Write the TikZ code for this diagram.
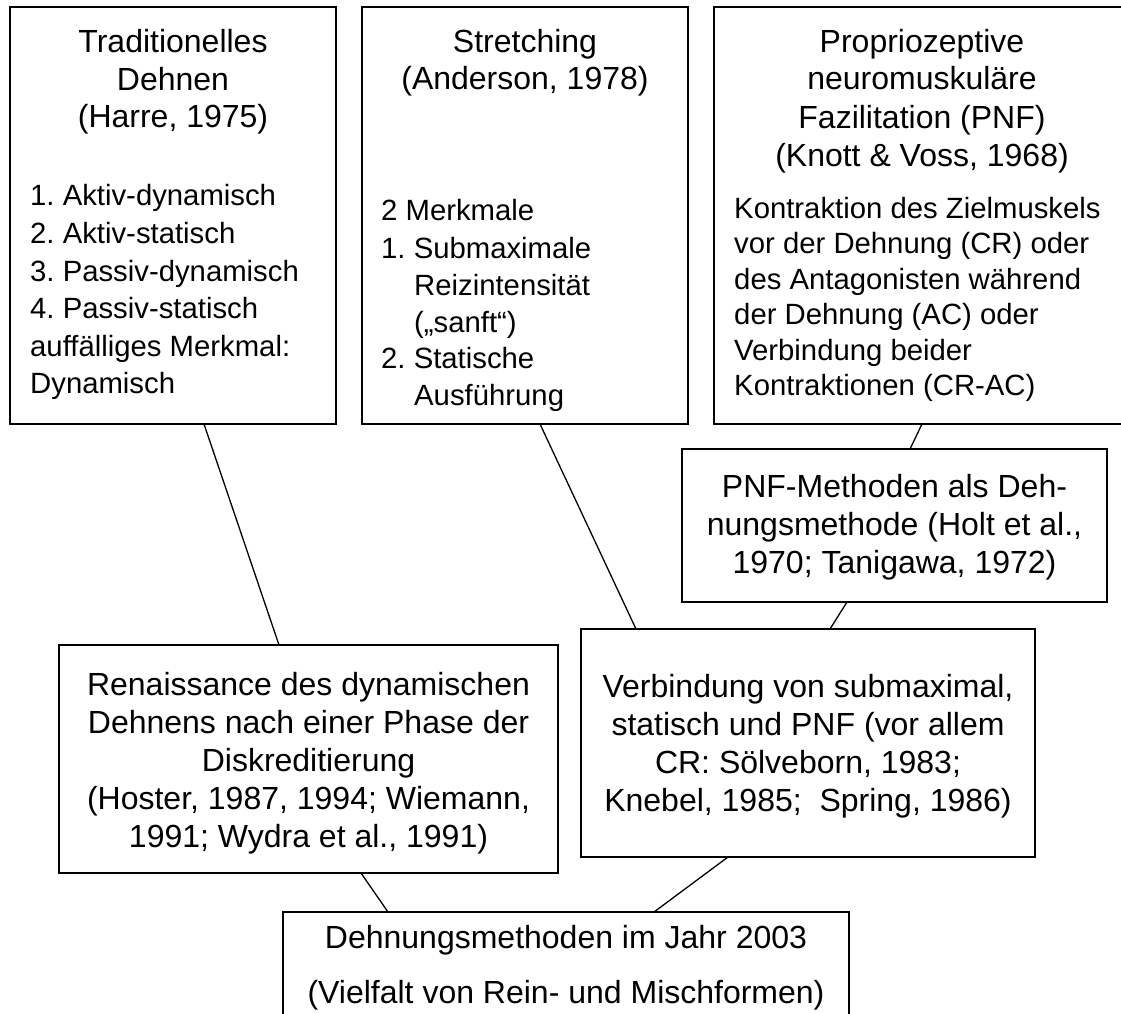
\documentclass[tikz,border=0pt]{standalone}
\usepackage{fontspec}
\setmainfont{Liberation Sans}
\frenchspacing
\begin{document}
\begin{tikzpicture}[x=1pt,y=-1pt,
  box/.style={draw=black, line width=2.2pt, rectangle, outer sep=0pt, inner sep=0pt},
  link/.style={draw=black, line width=1.3pt},
  hd/.style={font=\fontsize{32}{38}\selectfont, anchor=base, inner sep=0pt},
  li/.style={font=\fontsize{29.3}{36}\selectfont, anchor=base west, inner sep=0pt}]
\useasboundingbox[fill=white] (0,0) rectangle (1121,1013);

% boxes
\node[box, minimum width=326pt, minimum height=417pt] (trad) at (173,215.5) {};
\node[box, minimum width=326pt, minimum height=417pt] (stretch) at (525,215.5) {};
\node[box, minimum width=416pt, minimum height=417pt] (pnf) at (922,215.5) {};
\node[box, minimum width=425pt, minimum height=153pt] (pnfm) at (894.5,525.5) {};
\node[box, minimum width=499pt, minimum height=228pt] (ren) at (308.5,759) {};
\node[box, minimum width=454pt, minimum height=228pt] (verb) at (808,743) {};
\node[box, minimum width=566pt, minimum height=128pt] (dehn) at (566,976) {};

% connectors
\draw[link] ([xshift=31pt]trad.south) -- ([xshift=-29.5pt]ren.north);
\draw[link] ([xshift=15pt]stretch.south) -- ([xshift=-172pt]verb.north);
\draw[link] (pnf.south) -- ([xshift=15.5pt]pnfm.north);
\draw[link] ([xshift=-47.5pt]pnfm.south) -- ([xshift=22pt]verb.north);
\draw[link] ([xshift=52.5pt]ren.south) -- ([xshift=-178pt]dehn.north);
\draw[link] ([xshift=-80pt]verb.south) -- ([xshift=88pt]dehn.north);

% box 1 text
\node[hd] (t1a) at (173,52) {Traditionelles};
\node[hd] (t1b) at (173,90) {Dehnen};
\node[hd] (t1c) at (173,127) {(Harre, 1975)};
\node[li] (t1d) at (30,205) {1. Aktiv-dynamisch};
\node[li] (t1e) at (30,243) {2. Aktiv-statisch};
\node[li] (t1f) at (30,281) {3. Passiv-dynamisch};
\node[li] (t1g) at (30,318) {4. Passiv-statisch};
\node[li] (t1h) at (30,356) {auffälliges Merkmal:};
\node[li] (t1i) at (30,393) {Dynamisch};

% box 2 text
\node[hd] (t2a) at (525,52) {Stretching};
\node[hd] (t2b) at (525,89) {(Anderson, 1978)};
\node[li] (t2c) at (381,220) {2 Merkmale};
\node[li] (t2d) at (381,258) {1. Submaximale};
\node[li] (t2e) at (414,295) {Reizintensität};
\node[li] (t2f) at (414,332) {(„sanft“)};
\node[li] (t2g) at (381,368) {2. Statische};
\node[li] (t2h) at (414,405) {Ausführung};

% box 3 text
\node[hd] (t3a) at (922,52) {Propriozeptive};
\node[hd] (t3b) at (922,89) {neuromuskuläre};
\node[hd] (t3c) at (922,128) {Fazilitation (PNF)};
\node[hd] (t3d) at (922,166) {(Knott \& Voss, 1968)};
\node[li] (t3e) at (734,218) {Kontraktion des Zielmuskels};
\node[li] (t3f) at (734,253.5) {vor der Dehnung (CR) oder};
\node[li] (t3g) at (734,289) {des Antagonisten während};
\node[li] (t3h) at (734,324.5) {der Dehnung (AC) oder};
\node[li] (t3i) at (734,360) {Verbindung beider};
\node[li] (t3j) at (734,395.5) {Kontraktionen (CR-AC)};

% PNF-Methoden
\node[hd] (t4a) at (894.5,497) {PNF-Methoden als Deh-};
\node[hd] (t4b) at (894.5,535) {nungsmethode (Holt et al.,};
\node[hd] (t4c) at (894.5,573) {1970; Tanigawa, 1972)};

% Renaissance
\node[hd] (t5a) at (308.5,695) {Renaissance des dynamischen};
\node[hd] (t5b) at (308.5,733) {Dehnens nach einer Phase der};
\node[hd] (t5c) at (308.5,771) {Diskreditierung};
\node[hd] (t5d) at (308.5,809) {(Hoster, 1987, 1994; Wiemann,};
\node[hd] (t5e) at (308.5,847) {1991; Wydra et al., 1991)};

% Verbindung
\node[hd] (t6a) at (808,697) {Verbindung von submaximal,};
\node[hd] (t6b) at (808,735) {statisch und PNF (vor allem};
\node[hd] (t6c) at (808,773) {CR: Sölveborn, 1983;};
\node[hd] (t6d) at (808,811) {Knebel, 1985;\ \ Spring, 1986)};

% Dehnungsmethoden
\node[hd] (t7a) at (566,948) {Dehnungsmethoden im Jahr 2003};
\node[hd] (t7b) at (566,1003) {(Vielfalt von Rein- und Mischformen)};
\end{tikzpicture}
\end{document}
